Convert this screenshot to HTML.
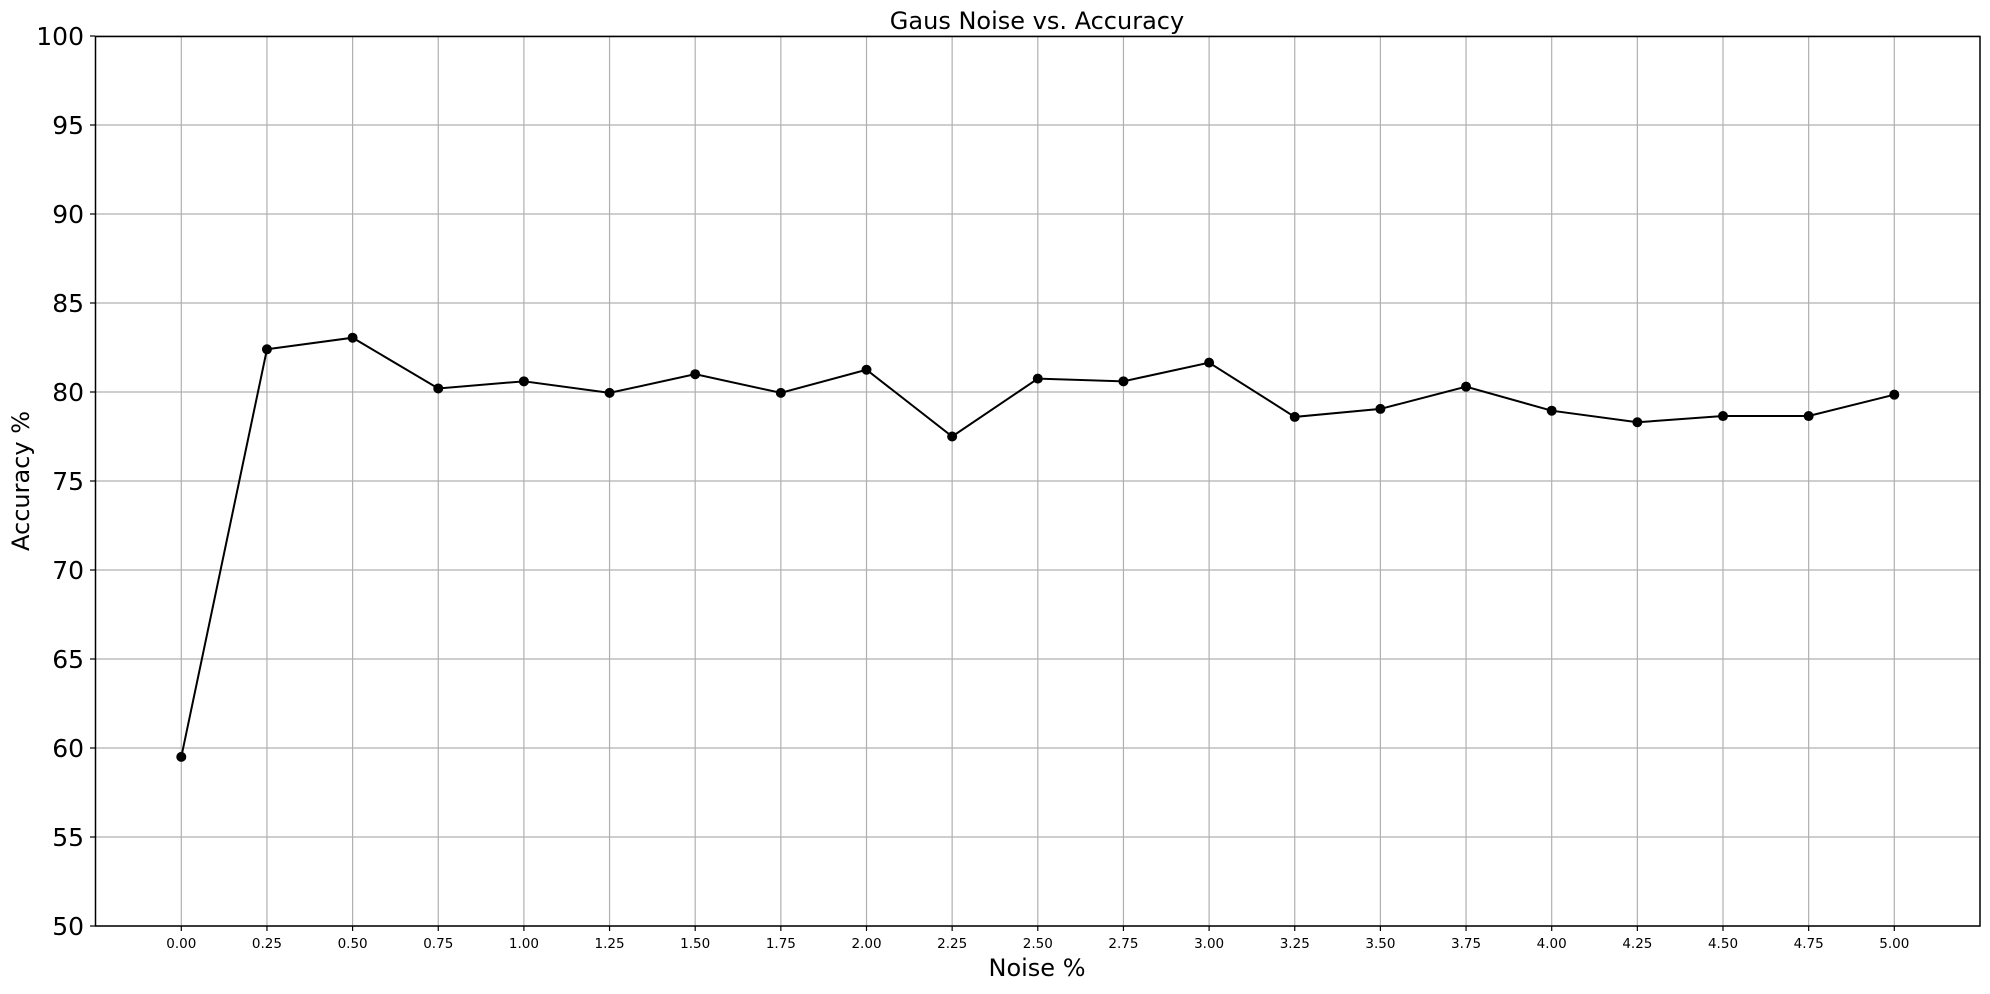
<!DOCTYPE html>
<html><head><meta charset="utf-8"><style>
body{margin:0;background:#fff;}
svg text{font-family:"DejaVu Sans","Liberation Sans",sans-serif;fill:#000;}
</style></head><body>
<svg id="chart" width="1990" height="989" viewBox="0 0 1990 989" xmlns="http://www.w3.org/2000/svg">
<g id="grid"></g>
<g id="series"></g>
<rect x="95.5" y="36.5" width="1884.5" height="889.5" fill="none" stroke="#000" stroke-width="1.5"/>
<g id="ticks"></g>
<text x="1037" y="29" font-size="24" text-anchor="middle">Gaus Noise vs. Accuracy</text>
<text x="1037" y="976" font-size="24" text-anchor="middle">Noise %</text>
<text x="0" y="0" font-size="24" text-anchor="middle" transform="translate(29,481) rotate(-90)">Accuracy %</text>
</svg>
<script>
const xValues=[0,0.25,0.5,0.75,1,1.25,1.5,1.75,2,2.25,2.5,2.75,3,3.25,3.5,3.75,4,4.25,4.5,4.75,5];
const accuracy=[59.5,82.4,83.05,80.2,80.6,79.95,81.0,79.95,81.25,77.5,80.75,80.6,81.65,78.6,79.05,80.3,78.95,78.3,78.65,78.65,79.85];
const xTickLabels=["0.00","0.25","0.50","0.75","1.00","1.25","1.50","1.75","2.00","2.25","2.50","2.75","3.00","3.25","3.50","3.75","4.00","4.25","4.50","4.75","5.00"];
const yTickValues=[50,55,60,65,70,75,80,85,90,95,100];
const NS="http://www.w3.org/2000/svg";
function xs(v){return 181.3+v*342.6;}
function ys(v){return 926-(v-50)*17.8;}
function mk(tag,attrs,parent){const e=document.createElementNS(NS,tag);for(const k in attrs)e.setAttribute(k,attrs[k]);parent.appendChild(e);return e;}
const grid=document.getElementById('grid'),ticks=document.getElementById('ticks'),series=document.getElementById('series');
xValues.forEach((v,i)=>{
 const x=xs(v);
 const g=mk('line',{x1:x,x2:x,y1:36,y2:926,stroke:'#b0b0b0','stroke-width':1.2},grid);
 
 
 const t=mk('line',{x1:x,x2:x,y1:926,y2:931,stroke:'#000','stroke-width':1.2},ticks);
 
 
 const l=mk('text',{x:x,y:948,'font-size':13.5,'text-anchor':'middle'},ticks);
 l.textContent=xTickLabels[i];
 
 
});
yTickValues.forEach(v=>{
 const y=ys(v);
 const g=mk('line',{x1:95,x2:1980,y1:y,y2:y,stroke:'#b0b0b0','stroke-width':1.2},grid);
 
 
 const t=mk('line',{x1:90,x2:95,y1:y,y2:y,stroke:'#000','stroke-width':1.2},ticks);
 
 
 const l=mk('text',{x:84,y:y+9,'font-size':25,'text-anchor':'end'},ticks);
 l.textContent=String(v);
 
 
});
const pts=xValues.map((v,i)=>xs(v)+','+ys(accuracy[i])).join(' ');
const line=mk('polyline',{points:pts,fill:'none',stroke:'#000','stroke-width':2},series);


xValues.forEach((v,i)=>{
 const c=mk('circle',{cx:xs(v),cy:ys(accuracy[i]),r:5,fill:'#000'},series);
 
 
});
</script>
</body></html>
